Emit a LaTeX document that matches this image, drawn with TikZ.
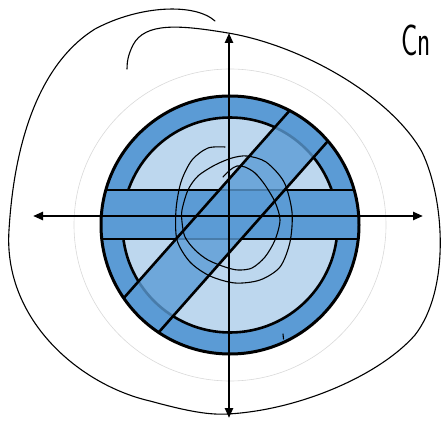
\documentclass[tikz,border=0pt]{standalone}
\usepackage{fontspec}
\usetikzlibrary{arrows.meta}
\definecolor{ringblue}{HTML}{5B9BD5}
\definecolor{lightblue}{HTML}{BDD7EE}
\begin{document}
\begin{tikzpicture}[x=1pt,y=-1pt,
  axis/.style={line width=2.4pt, {Triangle[length=10pt,width=8pt]}-{Triangle[length=10pt,width=8pt]}},
  hand/.style={line width=1.1pt, line cap=round, line join=round},
  edgeline/.style={line width=2.6pt},
  faint/.style={black!15, line width=0.6pt}]
\useasboundingbox (0,0) rectangle (442,422);
\coordinate (c) at (230,225);
\coordinate (xl) at (33,216);
\coordinate (xr) at (423,216);
\coordinate (yt) at (229,33);
\coordinate (yb) at (229,418);
% faint guide circle
\draw[faint] (c) circle[radius=156pt];
% outer ring
\fill[ringblue] (c) circle[radius=129pt];
% inner disk
\draw[edgeline, fill=lightblue] (c) circle[radius=107.5pt];
\begin{scope}
  \clip (c) circle[radius=129pt];
  % horizontal band
  \fill[ringblue] (90,190) rectangle (372,239);
  \draw[edgeline] (90,190) -- (372,190);
  \draw[edgeline] (90,239) -- (372,239);
  % diagonal band
  \fill[ringblue, opacity=0.8] (343.2,50.0) -- (379.8,82.4) -- (114.8,382.0) -- (78.2,349.6) -- cycle;
  \draw[edgeline] (78.2,349.6) -- (343.2,50.0);
  \draw[edgeline] (114.8,382.0) -- (379.8,82.4);
\end{scope}
\draw[line width=3pt] (c) circle[radius=129pt];
% axes
\draw[axis] (xl) -- (xr);
\draw[axis] (yb) -- (yt);
% hand-drawn outline
\draw[hand] (215,21) .. controls (195,3) and (140,5) .. (95,29)
  .. controls (45,60) and (15,130) .. (9,230)
  .. controls (3,320) and (80,385) .. (150,401)
  .. controls (190,412) and (210,415) .. (228,414)
  .. controls (300,410) and (380,375) .. (415,335)
  .. controls (450,290) and (445,200) .. (422,152)
  .. controls (390,95) and (300,45) .. (228,33)
  .. controls (180,25) and (145,22) .. (133,45)
  .. controls (128,55) and (127,62) .. (127,69);
% hand-drawn spiral
\draw[hand] plot[smooth] coordinates {
 (225,147) (208,148) (192,160) (181,182) (176,210) (177,240) (190,262) (210,276) (235,283)
 (260,280) (280,267) (290,242) (292,212) (284,182) (266,162) (247,156) (232,158) (215,165)
 (198,176) (188,190) (182,210) (182,222) (185,237) (195,250) (208,260) (225,267) (238,270)
 (252,268) (265,257) (275,240) (280,220) (275,202) (265,185) (255,173) (245,167) (237,166)
 (230,170) (223,177)};
\draw[hand] (283,334) -- (283.5,339);
% label
\node[font=\sffamily\fontsize{44}{44}\selectfont, xscale=0.62, anchor=base west, inner sep=0pt] (cn) at (401,56) {Cn};
\end{tikzpicture}
\end{document}
